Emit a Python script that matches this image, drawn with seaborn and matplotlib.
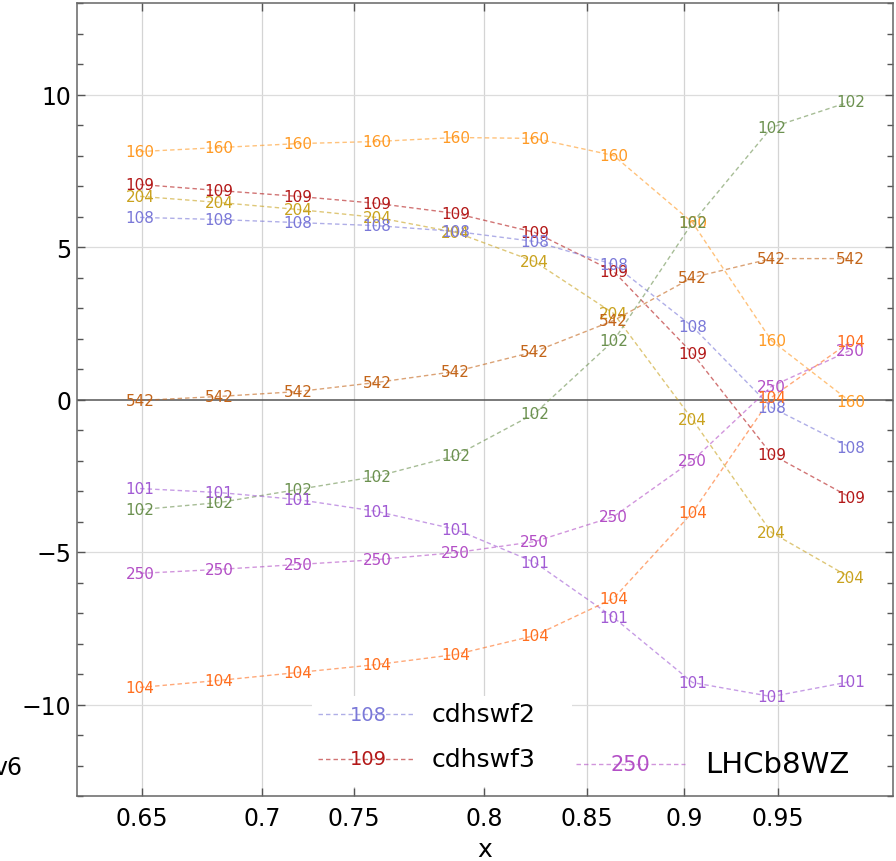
import numpy as np
import pandas as pd
import matplotlib
matplotlib.use("Agg")
import matplotlib.pyplot as plt
import seaborn as sns
from matplotlib.ticker import MultipleLocator, FixedLocator, NullLocator

# ---- data -------------------------------------------------------------
# sample index along x (uniformly spaced sampling points)
sample_idx = [0, 1, 2, 3, 4, 5, 6, 7, 8, 9]

s160 = [8.13, 8.26, 8.39, 8.46, 8.59, 8.56, 8.00, 5.80, 1.93, -0.07]
s109 = [7.05, 6.85, 6.66, 6.43, 6.10, 5.48, 4.20, 1.51, -1.80, -3.21]
s204 = [6.66, 6.46, 6.23, 5.97, 5.48, 4.52, 2.82, -0.66, -4.36, -5.84]
s108 = [5.97, 5.90, 5.80, 5.70, 5.51, 5.18, 4.43, 2.39, -0.26, -1.57]
s542 = [-0.03, 0.10, 0.26, 0.56, 0.92, 1.57, 2.59, 4.00, 4.62, 4.62]
s102 = [-3.61, -3.38, -2.95, -2.52, -1.84, -0.46, 1.93, 5.80, 8.92, 9.77]
s101 = [-2.92, -3.05, -3.28, -3.67, -4.26, -5.34, -7.15, -9.28, -9.74, -9.25]
s250 = [-5.70, -5.57, -5.41, -5.25, -5.02, -4.66, -3.84, -2.00, 0.43, 1.61]
s104 = [-9.44, -9.21, -8.95, -8.69, -8.36, -7.74, -6.52, -3.70, 0.07, 1.90]

series_ids = ["160", "109", "204", "108", "542", "102", "101", "250", "104"]
series_vals = [s160, s109, s204, s108, s542, s102, s101, s250, s104]

x_tick_labels = ["0.65", "0.7", "0.75", "0.8", "0.85", "0.9", "0.95"]

legend_ids = ["108", "109", "250"]
legend_names = ["cdhswf2", "cdhswf3", "LHCb8WZ"]

# ---- styling ----------------------------------------------------------
text_colors = {
    "160": "#FF9A24",
    "109": "#B31818",
    "204": "#C9A21E",
    "108": "#7A78D8",
    "542": "#C3651A",
    "102": "#6C9150",
    "101": "#A15BD4",
    "250": "#B34FC6",
    "104": "#FF6F1F",
}
# x positions (in sample-index units) where the x tick labels sit
x_tick_pos = [0.025, 1.546, 2.712, 4.36, 5.665, 6.895, 8.086]

sns.set_theme(style="ticks")
plt.rcParams["font.family"] = ["DejaVu Sans"]
plt.rcParams["text.color"] = "black"
plt.rcParams["xtick.labelcolor"] = "black"
plt.rcParams["ytick.labelcolor"] = "black"
plt.rcParams["axes.labelcolor"] = "black"

df = pd.DataFrame(
    [(i, v, sid) for sid, vals in zip(series_ids, series_vals) for i, v in zip(sample_idx, vals)],
    columns=["idx", "value", "series"],
)

fig = plt.figure(figsize=(8.96, 8.62), dpi=100)
ax = fig.add_axes([77 / 896, 1 - 797 / 862, 816 / 896, 793 / 862])

sns.lineplot(
    data=df, x="idx", y="value", hue="series", hue_order=series_ids,
    palette=text_colors, legend=False, linewidth=1.0, alpha=0.6, ax=ax,
    sort=False, estimator=None,
)
for ln in ax.lines:
    ln.set_dashes([3.2, 2.2])

# point labels
for sid, vals in zip(series_ids, series_vals):
    for i, v in zip(sample_idx, vals):
        ax.text(i, v, sid, color=text_colors[sid], fontsize=11,
                ha="center", va="center", zorder=5)

ax.set_xlim(-0.80, 9.54)
ax.set_ylim(-13, 13)

# grid and zero line
for p in x_tick_pos:
    ax.axvline(p, color="#d4d4d4", lw=0.9, zorder=0)
for yv in (-10, -5, 5, 10):
    ax.axhline(yv, color="#dcdcdc", lw=0.9, zorder=0)
ax.axhline(0, color="#555555", lw=1.1, zorder=1)

ax.xaxis.set_major_locator(FixedLocator(x_tick_pos))
ax.set_xticklabels(x_tick_labels)
ax.xaxis.set_minor_locator(NullLocator())
ax.yaxis.set_minor_locator(MultipleLocator(1))
ax.set_yticks([-10, -5, 0, 5, 10])
ax.set_yticklabels(["\u221210", "\u22125", "0", "5", "10"])

ax.tick_params(axis="both", which="both", direction="in", color="#555555",
               top=True, right=True, labelsize=17, width=1.0)
ax.tick_params(axis="both", which="major", length=6)
ax.tick_params(axis="both", which="minor", length=4.5)
ax.tick_params(axis="x", pad=7)
ax.tick_params(axis="y", pad=4)
for sp in ax.spines.values():
    sp.set_color("#666666")
    sp.set_linewidth(1.1)

ax.set_xlabel("x", fontsize=18, labelpad=5, color="black")
ax.set_ylabel("")
fig.text(22 / 896, 1 - 768 / 862, "v6", ha="right", va="center", fontsize=17)

# legend (partially visible block inside the frame)
tr = ax.transAxes
ax.add_patch(plt.Rectangle((0.288, 0.011), 0.319, 0.115, transform=tr,
                           facecolor="white", edgecolor="none", zorder=6))
legend_slots = [
    (0.295, 0.414, 0.357, 0.1034, 0.435, 18, 14),
    (0.295, 0.414, 0.357, 0.0467, 0.435, 18, 14),
    (0.611, 0.745, 0.678, 0.040, 0.770, 21, 15),
]
for sid, name, (x0, x1, xc, yc, xt, fs_name, fs_num) in zip(legend_ids, legend_names, legend_slots):
    ax.plot([x0, x1], [yc, yc], transform=tr, color=text_colors[sid], lw=1.0,
            alpha=0.6, dashes=[3.2, 2.2], zorder=7, clip_on=False)
    ax.text(xc, yc, sid, transform=tr, color=text_colors[sid], fontsize=fs_num,
            ha="center", va="center", zorder=8)
    ax.text(xt, yc, name, transform=tr, color="black", fontsize=fs_name,
            ha="left", va="center", zorder=8)

fig.savefig("out.png", dpi=100)
